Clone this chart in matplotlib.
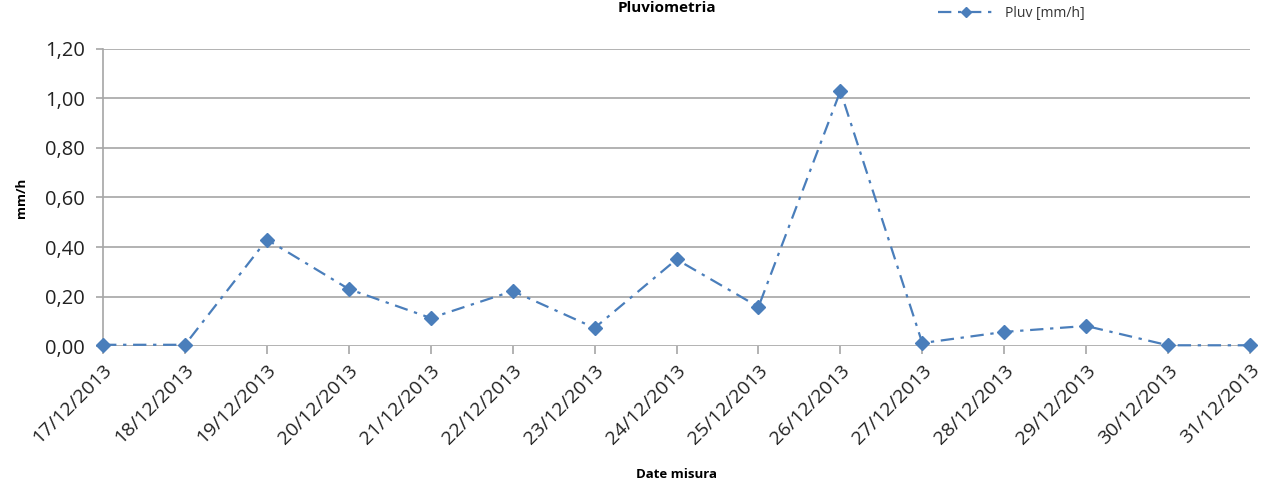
import matplotlib
matplotlib.use('Agg')
import matplotlib.pyplot as plt
import numpy as np

plt.rcParams['font.family'] = ['Open Sans', 'DejaVu Sans']

# dati
dates = ['17/12/2013', '18/12/2013', '19/12/2013', '20/12/2013', '21/12/2013',
         '22/12/2013', '23/12/2013', '24/12/2013', '25/12/2013', '26/12/2013',
         '27/12/2013', '28/12/2013', '29/12/2013', '30/12/2013', '31/12/2013']
pluv = [0.005, 0.005, 0.43, 0.23, 0.113, 0.222, 0.073, 0.35, 0.158, 1.03,
        0.012, 0.057, 0.081, 0.003, 0.003]
y_ticks = [0.0, 0.2, 0.4, 0.6, 0.8, 1.0, 1.2]

blue = '#4a7ebb'

fig = plt.figure(figsize=(12.63, 4.83), dpi=100)
ax = fig.add_axes([0.0816, 0.2836, 0.9081, 0.615])

x = np.arange(len(dates))
ax.plot(x, pluv, color=blue, linestyle=(0, (6, 3, 1.5, 3)), linewidth=1.6,
        marker='D', markersize=7, markerfacecolor=blue, markeredgecolor=blue,
        label='Pluv [mm/h]', clip_on=False, zorder=3)

ax.set_xlim(0, len(dates) - 1)
ax.set_ylim(0, 1.2)
ax.set_yticks(y_ticks)
# virgola decimale
ax.set_yticklabels([('%.2f' % v).replace('.', ',') for v in y_ticks],
                   fontsize=14.5, color='#222222')
ax.set_xticks(x)
ax.set_xticklabels(dates, rotation=45, ha='right', rotation_mode='anchor',
                   fontsize=14, color='#222222')

ax.yaxis.grid(True, color='#a6a6a6', linewidth=1.2)
ax.set_axisbelow(True)
for s in ['top', 'right', 'bottom']:
    ax.spines[s].set_visible(False)
ax.spines['left'].set_color('#a6a6a6')
ax.spines['left'].set_linewidth(1.2)
ax.tick_params(axis='y', length=5, color='#a6a6a6', width=1.2, pad=8)
ax.tick_params(axis='x', length=6, color='#a6a6a6', width=1.2, pad=5)

ax.set_ylabel('mm/h', fontsize=9.5, fontweight='bold', labelpad=12)
ax.set_xlabel('Date misura', fontsize=9.5, fontweight='bold', labelpad=15)
fig.text(0.528, 0.983, 'Pluviometria', fontsize=11, fontweight='bold',
         ha='center', va='center')

leg = ax.legend(loc='center', bbox_to_anchor=(0.792, 1.12), frameon=False,
                fontsize=10, handlelength=4, markerscale=0.75)
for t in leg.get_texts():
    t.set_color('#333333')

fig.savefig('out.png', dpi=100)
